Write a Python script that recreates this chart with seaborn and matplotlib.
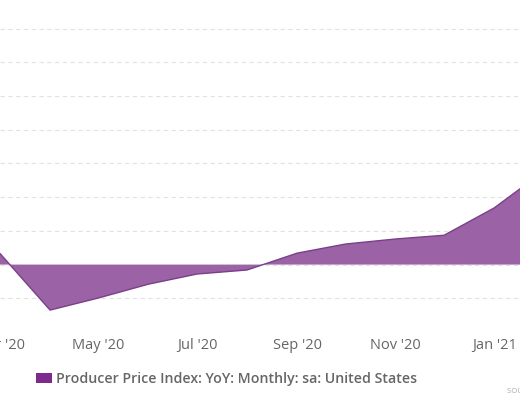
import pandas as pd
import numpy as np
import matplotlib
matplotlib.use("Agg")
import matplotlib.pyplot as plt
from matplotlib.patches import Patch
import seaborn as sns

# ---------------------------------------------
# DATA (% YoY)
# ---------------------------------------------
months = ["2020-03-01", "2020-04-01", "2020-05-01", "2020-06-01", "2020-07-01",
          "2020-08-01", "2020-09-01", "2020-10-01", "2020-11-01", "2020-12-01",
          "2021-01-01", "2021-02-01"]
ppi_yoy = [0.33, -1.35, -0.99, -0.58, -0.28, -0.16, 0.34, 0.61, 0.76, 0.87, 1.68, 2.78]
tick_months = ["2020-03-01", "2020-05-01", "2020-07-01", "2020-09-01", "2020-11-01", "2021-01-01"]
tick_labels = ["Mar '20", "May '20", "Jul '20", "Sep '20", "Nov '20", "Jan '21"]
series_name = "Producer Price Index: YoY: Monthly: sa: United States"

df = pd.DataFrame({"date": pd.to_datetime(months), "value": ppi_yoy})

fill_color = "#9b62a6"
line_color = "#7b3f88"

sns.set_style("white")
plt.rcParams["font.family"] = ["Open Sans", "DejaVu Sans"]

fig = plt.figure(figsize=(5.2, 4.0), dpi=100)
# the reference is a crop of a wider chart, so the plot area runs past the edges
ax = fig.add_axes([0.0, 0.17, 1.0, 0.83])

ax.fill_between(df["date"], 0, df["value"], color=fill_color, linewidth=0, zorder=2)
sns.lineplot(data=df, x="date", y="value", ax=ax, color=line_color, linewidth=1.0, zorder=3)

# x range: Mar 3 '20 .. Jan 17 '21 (what the crop shows)
ax.set_xlim(pd.Timestamp("2020-03-03"), pd.Timestamp("2021-01-17"))
ax.set_ylim(-2, 7.85)

ax.set_yticks(np.arange(-2, 8, 1))
ax.yaxis.grid(True, color="#e2e2e2", linestyle=(0, (4, 3)), linewidth=0.8, zorder=0)
ax.xaxis.grid(False)
ax.set_yticklabels([])
ax.tick_params(axis="y", length=0)

ax.set_xticks(pd.to_datetime(tick_months))
ax.set_xticklabels(tick_labels, fontsize=10.5, color="#666666")
ax.tick_params(axis="x", length=0, pad=4)
ax.set_xlabel("")
ax.set_ylabel("")

for s in ax.spines.values():
    s.set_visible(False)

ax.legend(handles=[Patch(facecolor="#7d2a8d", edgecolor="none", label=series_name)],
          loc="center left", bbox_to_anchor=(0.045, -0.142), frameon=False,
          handlelength=1.1, handleheight=0.75, handletextpad=0.3,
          prop={"size": 10.2, "weight": "semibold"}, labelcolor="#666666")

fig.text(0.975, 0.018, "SOURCE: CEICDATA.COM", fontsize=5.5, color="#aaaaaa")

fig.savefig("out.png", dpi=100)
